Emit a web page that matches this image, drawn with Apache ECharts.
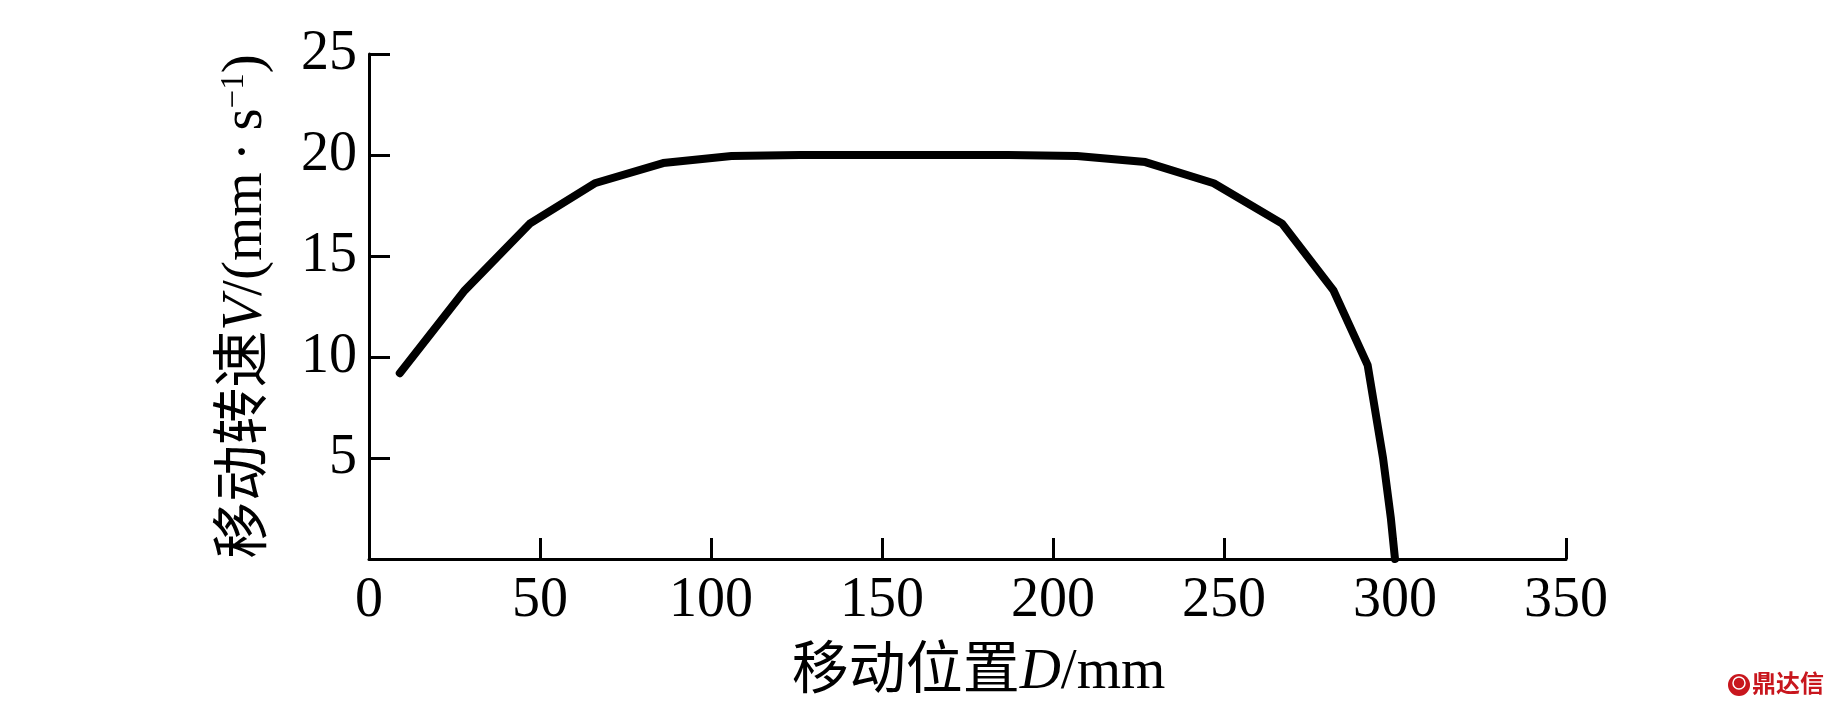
<!DOCTYPE html>
<html>
<head>
<meta charset="utf-8">
<script src="https://cdn.jsdelivr.net/npm/echarts@6/dist/echarts.min.js"></script>
<style>
html,body{margin:0;padding:0;background:#fff;}
#chart{width:1831px;height:709px;}
</style>
</head>
<body>
<div id="chart"></div>
<script>
// Data
const positions = [9, 28, 47, 66, 86, 106, 126, 146, 166, 187, 207, 227, 247, 267, 282, 292, 296.5, 298.8, 300];
const speeds    = [9.2, 13.3, 16.6, 18.6, 19.6, 19.95, 20.0, 20.0, 20.0, 20.0, 19.95, 19.65, 18.6, 16.6, 13.3, 9.6, 5.0, 2.0, 0];
const xTicks = [0, 50, 100, 150, 200, 250, 300, 350];
const yTicks = [0, 5, 10, 15, 20, 25];
const xName = '移动位置{i|D}/mm';
const yName = '移动转速{i|V}/(mm\u2009·\u2009s{sup|−1})';
const watermark = '鼎达信';

const FONT = '"Liberation Serif", "Noto Sans CJK SC", serif';
const chart = echarts.init(document.getElementById('chart'));
const points = positions.map((x, k) => [x, speeds[k]]);

const richStyles = {
  i: { fontFamily: FONT, fontSize: 57, fontStyle: 'italic', color: '#000' },
  sup: { fontFamily: FONT, fontSize: 33, color: '#000', verticalAlign: 'top' }
};

const axisCommon = {
  axisLine: { show: true, lineStyle: { color: '#000', width: 3 } },
  axisTick: { show: true, inside: true, length: 21, lineStyle: { color: '#000', width: 3 } },
  splitLine: { show: false },
  nameLocation: 'middle'
};

chart.setOption({
  animation: false,
  backgroundColor: '#fff',
  grid: { left: 369, right: 265, top: 54, bottom: 150, containLabel: false },
  xAxis: Object.assign({}, axisCommon, {
    type: 'value',
    min: xTicks[0], max: xTicks[xTicks.length - 1], interval: xTicks[1] - xTicks[0],
    name: xName, nameGap: 86,
    nameTextStyle: { fontFamily: FONT, fontSize: 57, color: '#000', padding: [0, 0, 0, 22], rich: richStyles },
    axisLabel: { fontFamily: FONT, fontSize: 56, color: '#000', margin: 14 }
  }),
  yAxis: Object.assign({}, axisCommon, {
    type: 'value',
    min: yTicks[0], max: yTicks[yTicks.length - 1], interval: yTicks[1] - yTicks[0],
    name: yName, nameGap: 94,
    nameTextStyle: { fontFamily: FONT, fontSize: 57, color: '#000', rich: richStyles },
    axisLabel: { fontFamily: FONT, fontSize: 56, color: '#000', margin: 12,
      formatter: v => (v === 0 ? '' : String(v)) }
  }),
  series: [{
    type: 'line',
    data: points,
    showSymbol: false,
    symbol: 'none',
    lineStyle: { color: '#000', width: 8, cap: 'round', join: 'round' },
    z: 3
  }],
  graphic: [
    { type: 'circle', shape: { cx: 1739, cy: 685, r: 11 }, style: { fill: '#c8161d' } },
    { type: 'circle', shape: { cx: 1739, cy: 683, r: 6 }, style: { fill: 'none', stroke: '#fff', lineWidth: 1.5 } },
    { type: 'text', left: 1752, top: 671,
      style: { text: watermark, fontFamily: '"Noto Sans CJK SC", sans-serif', fontWeight: 'bold', fontSize: 24, fill: '#c8161d' } }
  ]
});
</script>
</body>
</html>
